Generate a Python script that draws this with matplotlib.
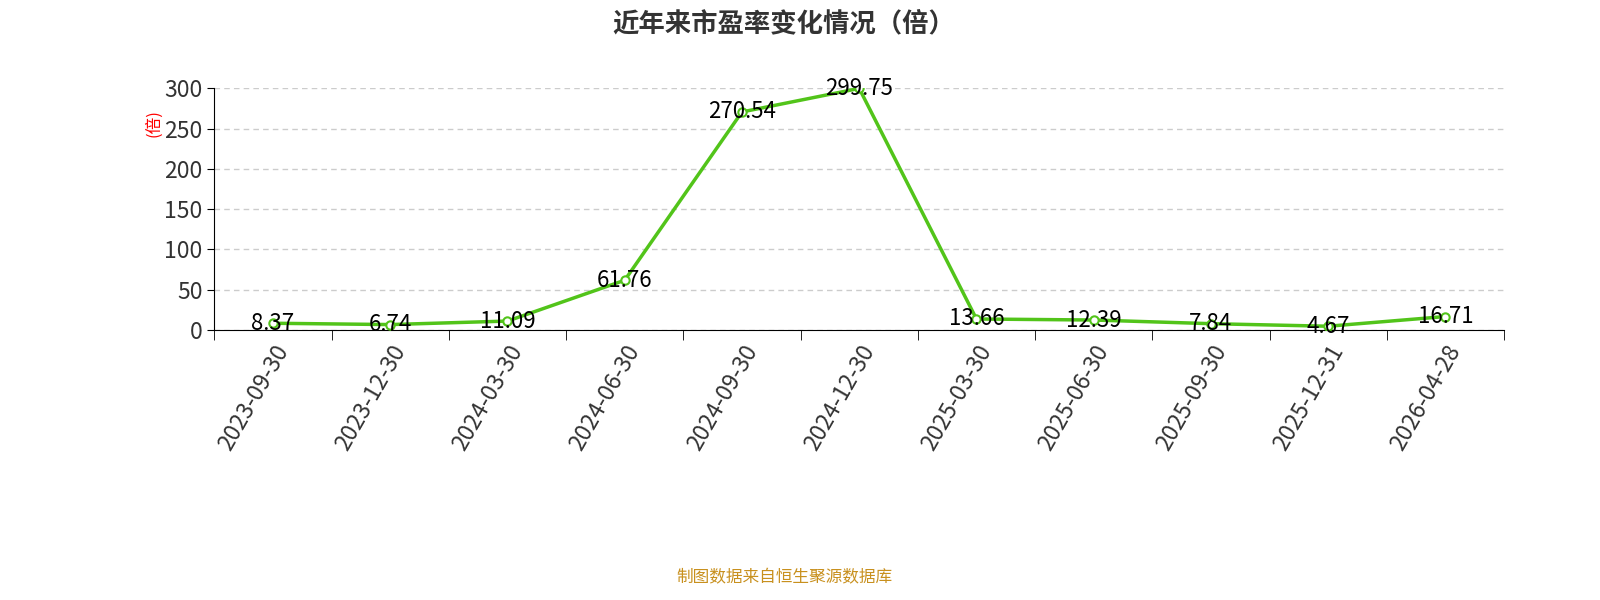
import numpy as np
import matplotlib.pyplot as plt

plt.rcParams['font.family'] = ['Noto Sans CJK SC', 'DejaVu Sans']

dates = ['2023-09-30', '2023-12-30', '2024-03-30', '2024-06-30', '2024-09-30', '2024-12-30',
         '2025-03-30', '2025-06-30', '2025-09-30', '2025-12-31', '2026-04-28']
pe = [8.37, 6.74, 11.09, 61.76, 270.54, 299.75, 13.66, 12.39, 7.84, 4.67, 16.71]

fig = plt.figure(figsize=(16, 6), dpi=100)
ax = fig.add_axes([0.134, 0.45, 0.806, 0.403])

x = np.arange(len(dates))
ax.plot(x, pe, color='#52c41a', lw=2.5, marker='o', ms=6,
        markerfacecolor='white', markeredgecolor='#52c41a', markeredgewidth=1.5, zorder=3)
for xi, v in zip(x, pe):
    ax.text(xi, v, f'{v:.2f}', ha='center', va='center', fontsize=16, color='black', zorder=4)

ax.set_xlim(-0.5, len(dates) - 0.5)
ax.set_ylim(0, 300)
ax.set_yticks(range(0, 301, 50))
ax.yaxis.grid(True, ls=(0, (4, 3)), color='#cccccc', lw=1)
ax.set_axisbelow(True)
ax.set_xticks(x)
ax.set_xticklabels(dates, rotation=60, ha='right', rotation_mode='anchor', fontsize=16.5, color='#333333')
ax.tick_params(axis='x', length=0, pad=8)
ax.set_xticks(np.arange(-0.5, len(dates)), minor=True)
ax.tick_params(axis='x', which='minor', length=7, direction='out')
ax.tick_params(axis='y', labelsize=16.5, labelcolor='#333333', length=5)
for s in ['top', 'right']:
    ax.spines[s].set_visible(False)

fig.text(0.096, 0.795, '(倍)', rotation=90, color='red', fontsize=12, ha='center', va='center')
fig.text(0.49, 0.96, '近年来市盈率变化情况（倍）', ha='center', va='center',
         fontsize=19, fontweight='bold', color='#333333')
fig.text(0.49, 0.037, '制图数据来自恒生聚源数据库', ha='center', va='center',
         fontsize=12, color='#c8901e')

fig.savefig('out.png', dpi=100)
